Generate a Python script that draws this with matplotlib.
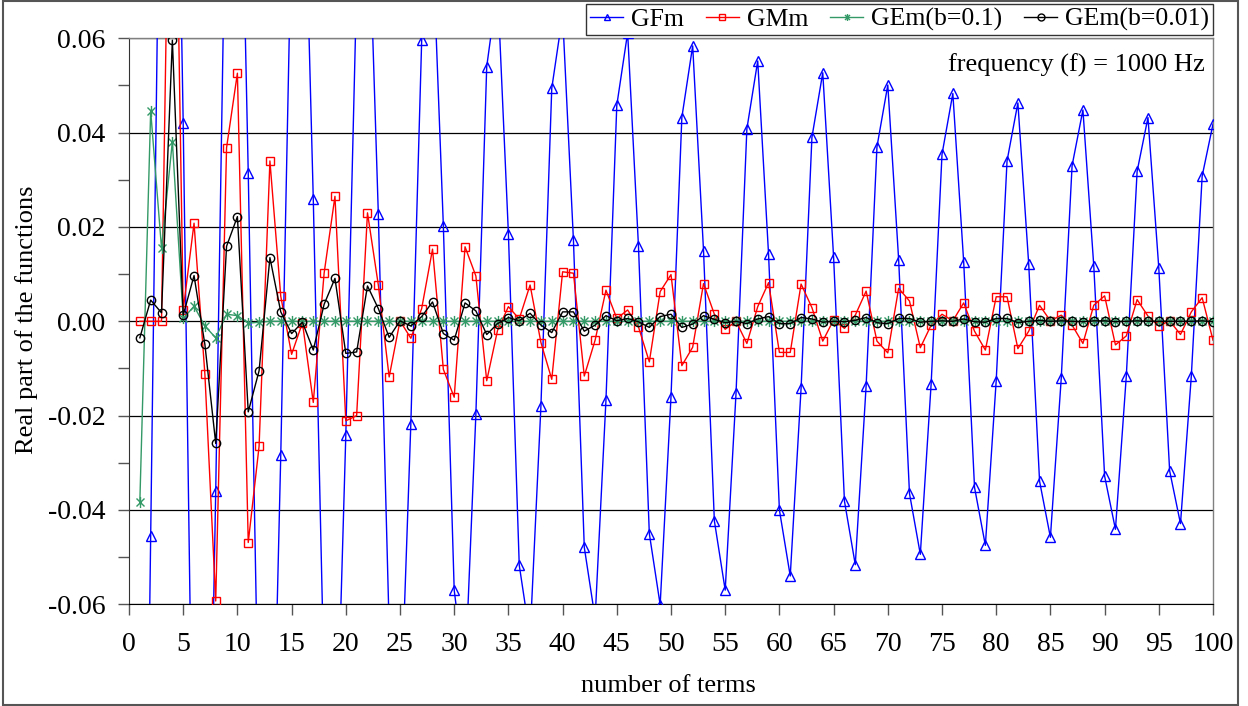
import matplotlib
matplotlib.use("Agg")
import matplotlib.pyplot as plt
from matplotlib.path import Path
from matplotlib.ticker import MultipleLocator, FixedLocator
from matplotlib.patches import Rectangle

plt.rcParams['font.family'] = ['Liberation Serif', 'DejaVu Serif']

# number of terms
terms = list(range(1, 101))

# real part of GFm
gfm = [-0.22, -0.0455, 0.13, 0.175, 0.042, -0.12, -0.16, -0.036, 0.105, 0.14,
       0.0315, -0.093, -0.125, -0.0284, 0.085, 0.114, 0.0259, -0.077, -0.104, -0.0242,
       0.071, 0.096, 0.0228, -0.065, -0.088, -0.0217, 0.0596, 0.081, 0.0202, -0.057,
       -0.0755, -0.0197, 0.054, 0.071, 0.0186, -0.0517, -0.067, -0.018, 0.0494, 0.065,
       0.0172, -0.0479, -0.063, -0.0167, 0.0458, 0.0612, 0.0159, -0.045, -0.0601, -0.016,
       0.0432, 0.0584, 0.015, -0.0423, -0.057, -0.0152, 0.0408, 0.0552, 0.0142, -0.040,
       -0.054, -0.0142, 0.039, 0.0527, 0.0136, -0.0381, -0.0516, -0.0137, 0.037, 0.0501,
       0.0131, -0.0365, -0.0494, -0.0132, 0.0354, 0.0483, 0.0126, -0.0352, -0.0475, -0.0126,
       0.034, 0.0463, 0.0121, -0.0339, -0.0458, -0.0121, 0.033, 0.0448, 0.0118, -0.0328,
       -0.0441, -0.0117, 0.0318, 0.0432, 0.0113, -0.0317, -0.0429, -0.0116, 0.0308, 0.0418]

# real part of GMm
gmm = [0.0, 0.0, 0.0, 0.145, 0.0024, 0.0208, -0.0112, -0.0593, 0.0368, 0.0526,
       -0.0469, -0.0265, 0.034, 0.0053, -0.0070, -0.0003, -0.0172, 0.0102, 0.0265, -0.0211,
       -0.0200, 0.0230, 0.0077, -0.0118, 0.0001, -0.0036, 0.0027, 0.0153, -0.0102, -0.0161,
       0.0158, 0.0096, -0.0126, -0.0019, 0.0031, 0.0005, 0.0077, -0.0045, -0.0123, 0.0105,
       0.0102, -0.0116, -0.0040, 0.0066, 0.0006, 0.0024, -0.0012, -0.0086, 0.0063, 0.0099,
       -0.0094, -0.0055, 0.0080, 0.0015, -0.0017, 0.0000, -0.0047, 0.0031, 0.0082, -0.0066,
       -0.0066, 0.0079, 0.0029, -0.0042, 0.0003, -0.0015, 0.0013, 0.0064, -0.0042, -0.0067,
       0.0070, 0.0043, -0.0056, -0.0008, 0.0015, 0.0001, 0.0039, -0.0021, -0.0061, 0.0052,
       0.0052, -0.0058, -0.0021, 0.0034, 0.0001, 0.0013, -0.0008, -0.0047, 0.0034, 0.0054,
       -0.0050, -0.0031, 0.0046, 0.0011, -0.0010, 0.0001, -0.0028, 0.0020, 0.0050, -0.0040]

# real part of GEm, b = 0.1
gem_b01 = [-0.0383, 0.0446, 0.0155, 0.0381, 0.0006, 0.0032, -0.0010, -0.0035, 0.0015, 0.0012,
           -0.0004, -0.0002] + [0.0] * 88

# real part of GEm, b = 0.01
gem_b001 = [-0.0035, 0.0045, 0.0018, 0.0596, 0.0013, 0.0097, -0.0049, -0.0259, 0.0159, 0.0222,
            -0.0192, -0.0105, 0.0135, 0.0020, -0.0026, -0.0002, -0.0061, 0.0036, 0.0091, -0.0068,
            -0.0065, 0.0075, 0.0027, -0.0034, 0.0001, -0.0010, 0.0010, 0.0041, -0.0026, -0.0040,
            0.0039, 0.0022, -0.0028, -0.0005, 0.0008, 0.0001, 0.0017, -0.0008, -0.0024, 0.0020,
            0.0020, -0.0021, -0.0008, 0.0012, 0.0001, 0.0006, -0.0001, -0.0013, 0.0010, 0.0015,
            -0.0013, -0.0006, 0.0012, 0.0004, -0.0003, 0.0000, -0.0005, 0.0005, 0.0010, -0.0005,
            -0.0005, 0.0008, 0.0005, -0.0002, 0.0000, -0.0001, 0.0002, 0.0008, -0.0003, -0.0005,
            0.0006, 0.0006, -0.0002, 0.0000, 0.0001, 0.0000, 0.0005, -0.0001, -0.0002, 0.0006,
            0.0006, -0.0003, 0.0000, 0.0002, 0.0000, 0.0001, 0.0000, -0.0001, 0.0001, 0.0001,
            -0.0001, 0.0000, 0.0001, 0.0000, 0.0000, 0.0000, 0.0000, 0.0000, 0.0001, -0.0001]

series_names = ['GFm', 'GMm', 'GEm(b=0.1)', 'GEm(b=0.01)']
x_ticks = list(range(0, 101, 5))
y_ticks = [-0.06, -0.04, -0.02, 0.0, 0.02, 0.04, 0.06]

# asterisk marker: vertical bar crossed by an X
asterisk = Path([(0, -1), (0, 1), (-0.72, -0.72), (0.72, 0.72), (-0.72, 0.72), (0.72, -0.72)],
                [Path.MOVETO, Path.LINETO, Path.MOVETO, Path.LINETO, Path.MOVETO, Path.LINETO])

W, H = 1248, 706
fig = plt.figure(figsize=(W / 100, H / 100), dpi=100)
x0, x1, ytop, ybot = 129, 1213, 38.3, 604.3
ax = fig.add_axes([x0 / W, 1 - ybot / H, (x1 - x0) / W, (ybot - ytop) / H])

ax.plot(terms, gfm, color='#0000FF', lw=1.0, marker='^', ms=7.5, mfc='none',
        mec='#0000FF', mew=1.0, label=series_names[0], zorder=3)
ax.plot(terms, gmm, color='#FF0000', lw=1.0, marker='s', ms=6, mfc='none',
        mec='#FF0000', mew=1.0, label=series_names[1], zorder=4)
ax.plot(terms, gem_b01, color='#339966', lw=1.0, marker=asterisk, ms=8,
        mec='#339966', mew=1.0, label=series_names[2], zorder=5)
ax.plot(terms, gem_b001, color='#000000', lw=1.0, marker='o', ms=6, mfc='none',
        mec='#000000', mew=1.0, label=series_names[3], zorder=6)

ax.set_xlim(0, 100)
ax.set_ylim(-0.06, 0.06)
ax.xaxis.set_major_locator(FixedLocator(x_ticks))
ax.yaxis.set_major_locator(FixedLocator(y_ticks))
ax.yaxis.set_minor_locator(MultipleLocator(0.01))
ax.set_yticklabels([f'{v:.2f}' for v in y_ticks])

ax.grid(axis='y', which='major', color='black', lw=0.9, zorder=1)
ax.tick_params(axis='both', which='both', direction='out', length=8, width=1,
               color='#555555', labelsize=20)
ax.tick_params(axis='y', which='minor', length=8)
ax.tick_params(axis='x', pad=12)
ax.tick_params(axis='y', pad=9)

for side in ('top', 'right'):
    ax.spines[side].set_color('#808080')
    ax.spines[side].set_linewidth(1.0)
ax.spines['left'].set_color('#333333')
ax.spines['bottom'].set_color('black')

ax.text(0.9926, 0.953, 'frequency (f) = 1000 Hz', transform=ax.transAxes,
        ha='right', va='center', fontsize=19)

fig.text(27 / W, 1 - 320 / H, 'Real part of the functions', rotation=90,
         ha='center', va='center', fontsize=19)
fig.text(668 / W, 1 - 686 / H, 'number of terms', ha='center', va='center', fontsize=19)

leg = fig.legend(loc='upper right', bbox_to_anchor=(x1 / W, 1 - 4 / H), ncol=4,
                 fontsize=18.5, frameon=True, fancybox=False, borderpad=0.15,
                 handlelength=1.3, handletextpad=0.3, columnspacing=0.85,
                 borderaxespad=0.0)
leg.get_frame().set_edgecolor('black')
leg.get_frame().set_linewidth(1.0)
for h in leg.legend_handles:
    h.set_markersize(5)

# outer chart border
fig.patches.append(Rectangle((3 / W, 1 / H), (1238 - 3) / W, (H - 2) / H,
                             transform=fig.transFigure, fill=False,
                             edgecolor='#555555', lw=1.5))

fig.savefig('out.png', dpi=100)
